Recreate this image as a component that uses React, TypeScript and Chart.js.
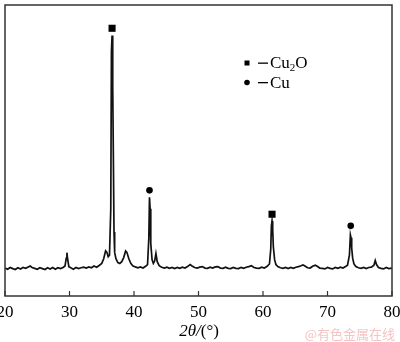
import React, { useEffect, useRef } from "react";
import { Chart, registerables } from "chart.js";

Chart.register(...registerables);

const twoTheta = [
  20.0, 20.4, 20.8, 21.2, 21.6, 22.0, 22.4, 22.8, 23.2, 23.6, 23.9, 24.2, 24.6, 25.0, 25.4, 25.8, 26.2, 26.6, 27.0, 27.4,
  27.8, 28.2, 28.6, 29.0, 29.3, 29.5, 29.6, 29.7, 29.9, 30.2, 30.6, 31.0, 31.4, 31.8, 32.2, 32.6, 33.0, 33.4, 33.8, 34.2,
  34.6, 35.0, 35.3, 35.6, 35.8, 36.0, 36.2, 36.4, 36.5, 36.6, 36.7, 36.8, 36.9, 37.0, 37.2, 37.5, 37.8, 38.1, 38.4, 38.7,
  38.9, 39.2, 39.5, 39.8, 40.2, 40.6, 41.0, 41.4, 41.8, 42.1, 42.3, 42.4, 42.5, 42.6, 42.8, 43.0, 43.2, 43.4, 43.6, 43.9,
  44.3, 44.7, 45.1, 45.5, 45.9, 46.3, 46.7, 47.1, 47.5, 47.9, 48.3, 48.7, 49.0, 49.4, 49.8, 50.2, 50.6, 51.0, 51.4, 51.8,
  52.2, 52.6, 53.0, 53.4, 53.8, 54.2, 54.6, 55.0, 55.4, 55.8, 56.2, 56.6, 57.0, 57.4, 57.8, 58.2, 58.6, 59.0, 59.4, 59.8,
  60.2, 60.6, 61.0, 61.2, 61.3, 61.4, 61.5, 61.6, 61.8, 62.0, 62.3, 62.7, 63.1, 63.5, 63.9, 64.3, 64.7, 65.1, 65.5, 65.9,
  66.2, 66.5, 66.9, 67.3, 67.7, 68.1, 68.4, 68.8, 69.2, 69.6, 70.0, 70.4, 70.8, 71.2, 71.6, 72.0, 72.4, 72.8, 73.1, 73.4,
  73.55, 73.65, 73.75, 73.9, 74.1, 74.4, 74.8, 75.2, 75.6, 76.0, 76.4, 76.8, 77.2, 77.4, 77.6, 77.9, 78.3, 78.7, 79.1, 79.5,
  80.0,
];
const intensity = [
  96, 92, 98, 94, 91, 97, 93, 98, 95, 100, 103, 98, 95, 92, 97, 94, 91, 97, 93, 98,
  92, 97, 94, 98, 103, 130, 149, 128, 101, 97, 92, 98, 94, 97, 99, 96, 100, 97, 103, 99,
  105, 112, 128, 155, 150, 135, 140, 300, 840, 895, 720, 480, 220, 150, 128, 115, 112, 118, 132, 155,
  150, 128, 112, 104, 100, 97, 100, 96, 102, 108, 200, 339, 300, 180, 125, 112, 120, 146, 118, 104,
  99, 96, 99, 95, 98, 94, 98, 95, 99, 96, 101, 108, 103, 98, 96, 99, 101, 96, 95, 99,
  96, 100, 101, 96, 95, 99, 95, 94, 98, 95, 94, 98, 95, 99, 101, 104, 98, 96, 95, 99,
  96, 101, 110, 160, 240, 258, 230, 170, 125, 108, 101, 97, 95, 98, 94, 98, 95, 99, 101, 104,
  107, 103, 97, 96, 102, 106, 102, 96, 95, 93, 98, 95, 93, 98, 95, 99, 96, 101, 106, 140,
  210, 200, 165, 130, 110, 101, 97, 95, 98, 94, 98, 99, 106, 122, 108, 98, 95, 93, 98, 94,
  96,
];

// phase markers above peaks
const cu2oMarkX = [36.6, 61.4];
const cu2oMarkY = [920, 281];
const cuMarkX = [42.4, 73.6];
const cuMarkY = [363, 241];

const xTicks = [20, 30, 40, 50, 60, 70, 80];

const SERIF = "'Liberation Serif', 'Times New Roman', serif";

const decorPlugin = {
  id: "decor",
  afterDraw(chart: any) {
    const { ctx, chartArea } = chart;
    const xs = chart.scales.x;
    ctx.save();
    // frame
    ctx.strokeStyle = "#333";
    ctx.lineWidth = 1.5;
    ctx.strokeRect(chartArea.left, chartArea.top, chartArea.right - chartArea.left, chartArea.bottom - chartArea.top);
    // inward ticks
    ctx.lineWidth = 1.2;
    xs.ticks.forEach((t: any) => {
      const px = xs.getPixelForValue(t.value);
      ctx.beginPath();
      ctx.moveTo(px, chartArea.bottom);
      ctx.lineTo(px, chartArea.bottom - 5);
      ctx.stroke();
    });

    // legend
    ctx.fillStyle = "#000";
    ctx.fillRect(244.5, 60.5, 5, 5);
    ctx.beginPath();
    ctx.arc(247, 82.5, 2.8, 0, Math.PI * 2);
    ctx.fill();
    ctx.fillRect(258, 62.5, 10, 1.3);
    ctx.fillRect(258, 82, 10, 1.3);
    ctx.textBaseline = "alphabetic";
    ctx.textAlign = "left";
    ctx.font = `17px ${SERIF}`;
    let x = 270;
    ctx.fillText("Cu", x, 67.5);
    x += ctx.measureText("Cu").width;
    ctx.font = `11px ${SERIF}`;
    ctx.fillText("2", x, 71);
    x += ctx.measureText("2").width;
    ctx.font = `17px ${SERIF}`;
    ctx.fillText("O", x, 67.5);
    ctx.fillText("Cu", 270, 87.5);

    // axis title 2θ/(°)
    const italic = `italic 17px ${SERIF}`;
    const upright = `17px ${SERIF}`;
    ctx.font = italic;
    const w1 = ctx.measureText("2θ/").width;
    ctx.font = upright;
    const w2 = ctx.measureText("(°)").width;
    let tx = 199 - (w1 + w2) / 2;
    const ty = 336;
    ctx.font = italic;
    ctx.fillText("2θ/", tx, ty);
    tx += w1;
    ctx.font = upright;
    ctx.fillText("(°)", tx, ty);

    // watermark
    ctx.fillStyle = "#f5c4c4";
    ctx.font = "13px 'Noto Sans CJK SC', sans-serif";
    ctx.textAlign = "right";
    ctx.fillText("@有色金属在线", 395, 339);
    ctx.restore();
  },
};

export default function App() {
  const ref = useRef<HTMLCanvasElement | null>(null);
  useEffect(() => {
    if (!ref.current) return;
    const chart = new Chart(ref.current, {
      type: "line",
      data: {
        datasets: [
          {
            label: "XRD",
            data: twoTheta.map((t, i) => ({ x: t, y: intensity[i] })),
            borderColor: "#111",
            borderWidth: 1.7,
            pointRadius: 0,
            tension: 0,
            fill: false,
          },
          {
            type: "scatter",
            label: "Cu2O",
            data: cu2oMarkX.map((t, i) => ({ x: t, y: cu2oMarkY[i] })),
            pointStyle: "rect",
            pointRadius: 5,
            backgroundColor: "#000",
            borderColor: "#000",
            borderWidth: 0,
          },
          {
            type: "scatter",
            label: "Cu",
            data: cuMarkX.map((t, i) => ({ x: t, y: cuMarkY[i] })),
            pointStyle: "circle",
            pointRadius: 3.3,
            backgroundColor: "#000",
            borderColor: "#000",
            borderWidth: 0,
          },
        ] as any,
      },
      options: {
        animation: false,
        responsive: false,
        maintainAspectRatio: false,
        events: [],
        layout: { padding: { left: 5, right: 8, top: 1, bottom: 0 } },
        plugins: { legend: { display: false }, tooltip: { enabled: false }, title: { display: false } },
        scales: {
          x: {
            type: "linear",
            min: 20,
            max: 80,
            afterBuildTicks(scale: any) {
              scale.ticks = xTicks.map((v) => ({ value: v }));
            },
            afterFit(scale: any) {
              scale.height = 46;
              scale.paddingLeft = 0;
              scale.paddingRight = 0;
            },
            grid: { display: false, drawTicks: false },
            border: { display: false },
            ticks: {
              autoSkip: false,
              maxRotation: 0,
              padding: 6,
              color: "#000",
              font: { family: SERIF, size: 17 },
            },
          },
          y: {
            type: "linear",
            min: 0,
            max: 1000,
            display: false,
          },
        },
      },
      plugins: [decorPlugin],
    } as any);
    return () => chart.destroy();
  }, []);
  return (
    <div style={{ position: "absolute", left: 0, top: 0, width: 400, height: 342, background: "#fff" }}>
      <canvas ref={ref} width={400} height={342} style={{ display: "block" }} />
    </div>
  );
}
